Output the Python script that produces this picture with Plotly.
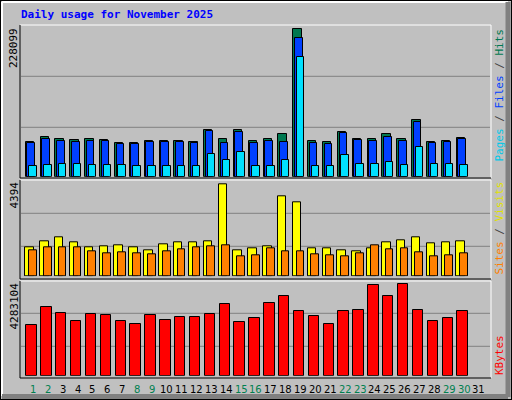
import plotly.graph_objects as go

days = list(range(1, 32))
hits = [53664, 61404, 57792, 56244, 57792, 56244, 51600, 51600, 54696, 54696, 54696, 53148, 71724, 57792, 71724,
        54696, 57792, 65532, 228099, 54696, 53148, 68628, 57792, 57792, 65532, 57792, 87204, 53148, 54696, 59340, None]
files = [51600, 57792, 54696, 53148, 54696, 54696, 50052, 50052, 53148, 53148, 53148, 51600, 70176, 51600, 68628,
         51600, 54696, 53148, 214140, 51600, 50052, 67080, 56244, 54696, 60888, 54696, 84108, 51600, 53148, 57792, None]
pages = [15996, 17544, 19092, 19092, 17544, 17544, 17544, 15996, 15996, 15996, 15996, 15996, 34572, 25284, 37668,
         15996, 15996, 25284, 184728, 15996, 15996, 33024, 19092, 19092, 22188, 17544, 45408, 19092, 19092, 17544, None]
visits = [1385, 1672, 1863, 1624, 1385, 1433, 1481, 1385, 1242, 1528, 1624, 1624, 1672, 4394, 1242,
          1337, 1433, 3821, 3534, 1337, 1337, 1242, 1194, 1337, 1624, 1719, 1863, 1576, 1624, 1672, None]
sites = [1242, 1385, 1385, 1385, 1194, 1098, 1146, 1098, 1051, 1194, 1290, 1385, 1433, 1481, 955,
         1003, 1337, 1194, 1194, 1051, 1003, 955, 1098, 1481, 1290, 1337, 1146, 955, 1003, 1098, None]
kbytes = [2360432, 3204560, 2923184, 2548016, 2876288, 2829392, 2548016, 2407328, 2829392, 2594912, 2735600,
          2735600, 2876288, 3345248, 2501120, 2688704, 3392144, 3720416, 3016976, 2782496, 2407328, 3016976,
          3063872, 4236272, 3720416, 4283104, 3063872, 2548016, 2688704, 3016976, None]
weekend = [1, 2, 8, 9, 15, 16, 22, 23, 29, 30]

W, H = 512, 400
def py(p):  # pixel row -> paper y
    return 1 - p / H
def px(p):
    return p / W

fig = go.Figure()
ol = dict(color="black", width=1)
fig.add_bar(x=days, y=hits, offset=-0.49, width=0.56, marker=dict(color="#007850", line=ol), xaxis="x", yaxis="y")
fig.add_bar(x=days, y=files, offset=-0.38, width=0.51, marker=dict(color="#0040ff", line=ol), xaxis="x", yaxis="y")
fig.add_bar(x=days, y=pages, offset=-0.25, width=0.5, marker=dict(color="#00e0ff", line=ol), xaxis="x", yaxis="y")
fig.add_bar(x=days, y=visits, offset=-0.52, width=0.57, marker=dict(color="#ffff00", line=ol), xaxis="x2", yaxis="y2")
fig.add_bar(x=days, y=sites, offset=-0.27, width=0.52, marker=dict(color="#ff8000", line=ol), xaxis="x2", yaxis="y2")
fig.add_bar(x=days, y=kbytes, offset=-0.45, width=0.7, marker=dict(color="#ff0000", line=ol), xaxis="x3", yaxis="y3")

xr = [0.126, 31.81]
xd = [px(20), px(491)]
ax = dict(range=xr, domain=xd, showgrid=False, showticklabels=False, zeroline=False, fixedrange=True)
panels = [  # (baseline px, top px, value at top)
    (176.7, 25.0, 234750),
    (276.3, 177.3, 4728),
    (375.7, 282.0, 4283104 * 93.7 / 91.4),
]
layout = dict(width=W, height=H, autosize=False, margin=dict(l=0, r=0, t=0, b=0), paper_bgcolor="#c0c0c0",
              plot_bgcolor="rgba(0,0,0,0)", showlegend=False, barmode="overlay", bargap=0)
for i, (b, t, top) in enumerate(panels):
    sfx = "" if i == 0 else str(i + 1)
    layout["xaxis" + sfx] = dict(ax, anchor="y" + sfx)
    layout["yaxis" + sfx] = dict(range=[0, top], domain=[py(b), py(t)], showgrid=False, showticklabels=False,
                                 zeroline=False, fixedrange=True, anchor="x" + sfx)
fig.update_layout(**layout)

shapes = []
# outer frame
shapes.append(dict(type="rect", xref="paper", yref="paper", x0=0, x1=1, y0=0, y1=1, line=dict(color="black", width=2)))
shapes.append(dict(type="line", xref="paper", yref="paper", x0=px(2), x1=px(508), y0=py(2), y1=py(2), line=dict(color="white", width=2)))
shapes.append(dict(type="line", xref="paper", yref="paper", x0=px(2), x1=px(2), y0=py(2), y1=py(396), line=dict(color="white", width=2)))
shapes.append(dict(type="line", xref="paper", yref="paper", x0=px(508), x1=px(508), y0=py(2), y1=py(397), line=dict(color="#808080", width=5)))
shapes.append(dict(type="line", xref="paper", yref="paper", x0=px(2), x1=px(508), y0=py(396.5), y1=py(396.5), line=dict(color="#808080", width=5)))
# panel frames
for top, bot in [(25, 178), (180, 279), (281, 378)]:
    shapes.append(dict(type="line", xref="paper", yref="paper", x0=px(20), x1=px(491), y0=py(top), y1=py(top), line=dict(color="white", width=1)))
    shapes.append(dict(type="line", xref="paper", yref="paper", x0=px(491), x1=px(491), y0=py(top), y1=py(bot), line=dict(color="white", width=1)))
    shapes.append(dict(type="line", xref="paper", yref="paper", x0=px(20), x1=px(20), y0=py(top), y1=py(bot), line=dict(color="black", width=1)))
    shapes.append(dict(type="line", xref="paper", yref="paper", x0=px(20), x1=px(491), y0=py(bot), y1=py(bot), line=dict(color="black", width=1)))
# grid lines
for g in [76.3, 127.3, 213.3, 246.3, 313.3, 346.3]:
    shapes.append(dict(type="line", xref="paper", yref="paper", x0=px(21), x1=px(490), y0=py(g), y1=py(g),
                       line=dict(color="#808080", width=1), layer="below"))
fig.update_layout(shapes=shapes)

mono = "DejaVu Sans Mono"
ann = [dict(text="<b>Daily usage for November 2025</b>", x=px(19), y=py(15), xanchor="left", yanchor="middle",
            font=dict(family=mono, size=11, color="#0000ff"))]
for lbl, ytop in [("228099", 26), ("4394", 180), ("4283104", 281)]:
    ann.append(dict(text=lbl, textangle=-90, x=px(14), y=py(ytop), xanchor="center", yanchor="top",
                    font=dict(family=mono, size=11, color="black")))
ann.append(dict(text="<span style='color:#00c8e8'>Pages</span> / <span style='color:#0040ff'>Files</span> / <span style='color:#007850'>Hits</span>",
                textangle=-90, x=px(499), y=py(27), xanchor="center", yanchor="top", font=dict(family=mono, size=11, color="#404040")))
ann.append(dict(text="<span style='color:#ff8000'>Sites</span> / <span style='color:#e0e000'>Visits</span>",
                textangle=-90, x=px(499), y=py(277), xanchor="center", yanchor="bottom", font=dict(family=mono, size=11, color="#404040")))
ann.append(dict(text="KBytes", textangle=-90, x=px(499), y=py(377), xanchor="center", yanchor="bottom",
                font=dict(family=mono, size=11, color="#ff0000")))
for d in days:
    ann.append(dict(text=str(d), x=d, xref="x3", y=py(389), yref="paper", xanchor="center", yanchor="middle", showarrow=False,
                    font=dict(family="DejaVu Sans", size=10, color="#008050" if d in weekend else "black")))
for a in ann:
    a.setdefault("xref", "paper")
    a.setdefault("yref", "paper")
    a["showarrow"] = False
fig.update_layout(annotations=ann)

fig.write_html("out.html", config={"displayModeBar": False},
               post_script="document.body.style.margin='0';document.body.style.overflow='hidden';")
